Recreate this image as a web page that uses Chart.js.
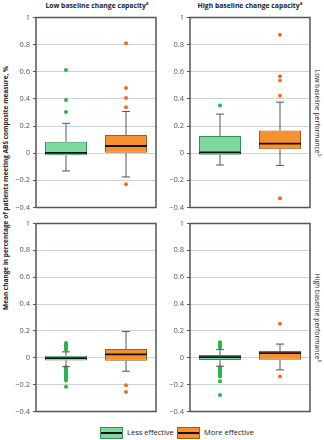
<!DOCTYPE html>
<html>
<head>
<meta charset="utf-8">
<script src="https://cdn.jsdelivr.net/npm/chart.js@4"></script>
<style>
  body { margin: 0; background: #fff; font-family: "Open Sans", "Noto Sans", sans-serif; }
  #wrap { position: relative; width: 324px; height: 440px; overflow: hidden; }
  canvas { position: absolute; }
  .t { position: absolute; color: #222; white-space: nowrap; font-size: 7.5px; }
  .b { font-weight: bold; }
  sup { font-size: 4.5px; }
  .leg { position: absolute; top: 427px; width: 21px; height: 10px; border: 1px solid; }
  .leg i { position: absolute; left: 0; right: 0; top: 4px; height: 2px; background: #111; }
</style>
</head>
<body>
<div id="wrap">
  <div class="t b" style="left:97px; top:0px; font-size:6.8px; transform:translateX(-50%);">Low baseline change capacity<sup>a</sup></div>
  <div class="t b" style="left:250px; top:0px; font-size:6.8px; transform:translateX(-50%);">High baseline change capacity<sup>a</sup></div>
  <div class="t b" style="left:5px; top:188px; font-size:6.5px; transform:translate(-50%,-50%) rotate(-90deg);">Mean change in percentage of patients meeting ABS composite measure, %</div>
  <div class="t" style="left:318px; top:113px; font-size:6.8px; transform:translate(-50%,-50%) rotate(90deg);">Low baseline performance<sup>b</sup></div>
  <div class="t" style="left:318px; top:318px; font-size:6.8px; transform:translate(-50%,-50%) rotate(90deg);">High baseline performance<sup>b</sup></div>

  <canvas id="c1" width="162" height="205" style="left:0; top:10px;"></canvas>
  <canvas id="c2" width="162" height="205" style="left:162px; top:10px;"></canvas>
  <canvas id="c3" width="162" height="203" style="left:0; top:216px;"></canvas>
  <canvas id="c4" width="162" height="203" style="left:162px; top:216px;"></canvas>

  <div class="leg" style="left:100px; background:#7dd9a0; border-color:#3e8a5a;"><i></i></div>
  <div class="t" style="left:127px; top:427px;">Less effective</div>
  <div class="leg" style="left:177px; background:#f7902f; border-color:#a45a1c;"><i></i></div>
  <div class="t" style="left:204px; top:427px;">More effective</div>
</div>
<script>
var categories = ['Less effective', 'More effective'];
var fills = ['#7dd9a0', '#f7902f'];
var borders = ['#3e8a5a', '#a45a1c'];
var dots = ['#2bb34b', '#f46f1b'];
var yTicks = [1, 0.8, 0.6, 0.4, 0.2, 0, -0.2, -0.4];

// low change capacity, low performance
var a_q1 = [-0.015, 0.0];
var a_median = [0.002, 0.053];
var a_q3 = [0.084, 0.134];
var a_whiskerLow = [-0.131, -0.175];
var a_whiskerHigh = [0.22, 0.307];
var a_outLess = [0.613, 0.393, 0.303];
var a_outMore = [0.81, 0.48, 0.407, 0.339, -0.228];

// high change capacity, low performance
var b_q1 = [-0.012, 0.029];
var b_median = [0.006, 0.07];
var b_q3 = [0.126, 0.167];
var b_whiskerLow = [-0.087, -0.09];
var b_whiskerHigh = [0.288, 0.376];
var b_outLess = [0.351];
var b_outMore = [0.873, 0.567, 0.535, 0.424, -0.332];

// low change capacity, high performance
var c_q1 = [-0.02, -0.022];
var c_median = [-0.002, 0.025];
var c_q3 = [0.015, 0.066];
var c_whiskerLow = [-0.066, -0.1];
var c_whiskerHigh = [0.044, 0.195];
var c_outLess = [0.11, 0.1, 0.09, 0.08, 0.07, 0.06, -0.07, -0.08, -0.09, -0.1, -0.11, -0.12, -0.13, -0.14, -0.15, -0.16, -0.17, -0.215];
var c_outMore = [-0.204, -0.255];

// high change capacity, high performance
var d_q1 = [-0.017, -0.015];
var d_median = [0.005, 0.034];
var d_q3 = [0.02, 0.051];
var d_whiskerLow = [-0.063, -0.09];
var d_whiskerHigh = [0.061, 0.102];
var d_outLess = [0.115, 0.1, 0.085, 0.075, -0.07, -0.08, -0.09, -0.1, -0.11, -0.12, -0.13, -0.14, -0.175, -0.277];
var d_outMore = [0.253, -0.139];

function fmt(v) {
  var s = String(Number(v.toFixed(1)));
  return s.replace('-', '\u2212');
}

var boxPlugin = {
  id: 'boxes',
  beforeDatasetsDraw: function(chart) {
    var a = chart.chartArea, ctx = chart.ctx;
    ctx.save();
    ctx.strokeStyle = '#555';
    ctx.lineWidth = 1.5;
    ctx.strokeRect(a.left, a.top, a.right - a.left, a.bottom - a.top);
    ctx.restore();
  },
  afterDatasetsDraw: function(chart, args, s) {
    var y = chart.scales.y, ctx = chart.ctx;
    var bars = chart.getDatasetMeta(0).data;
    ctx.save();
    bars.forEach(function(bar, i) {
      var x = bar.x, half = bar.width / 2;
      ctx.strokeStyle = '#555';
      ctx.lineWidth = 1;
      ctx.beginPath();
      ctx.moveTo(x, y.getPixelForValue(s.q3[i]));
      ctx.lineTo(x, y.getPixelForValue(s.hi[i]));
      ctx.moveTo(x - 4, y.getPixelForValue(s.hi[i]));
      ctx.lineTo(x + 4, y.getPixelForValue(s.hi[i]));
      ctx.moveTo(x, y.getPixelForValue(s.q1[i]));
      ctx.lineTo(x, y.getPixelForValue(s.lo[i]));
      ctx.moveTo(x - 4, y.getPixelForValue(s.lo[i]));
      ctx.lineTo(x + 4, y.getPixelForValue(s.lo[i]));
      ctx.stroke();
      ctx.strokeStyle = '#111';
      ctx.lineWidth = 1.8;
      ctx.beginPath();
      ctx.moveTo(x - half, y.getPixelForValue(s.med[i]));
      ctx.lineTo(x + half, y.getPixelForValue(s.med[i]));
      ctx.stroke();
    });
    ctx.restore();
  }
};

function makePanel(id, q1, med, q3, lo, hi, outLess, outMore, axisW, padR, padB) {
  return new Chart(document.getElementById(id), {
    type: 'bar',
    data: {
      labels: categories,
      datasets: [{
        data: [[q1[0], q3[0]], [q1[1], q3[1]]],
        backgroundColor: fills,
        borderColor: borders,
        borderWidth: 1,
        borderSkipped: false,
        barPercentage: 0.7,
        categoryPercentage: 1
      }, {
        type: 'line',
        showLine: false,
        data: outLess.map(function(v) { return {x: categories[0], y: v}; }),
        pointRadius: 2,
        pointBorderWidth: 0,
        pointBackgroundColor: dots[0]
      }, {
        type: 'line',
        showLine: false,
        data: outMore.map(function(v) { return {x: categories[1], y: v}; }),
        pointRadius: 2,
        pointBorderWidth: 0,
        pointBackgroundColor: dots[1]
      }]
    },
    options: {
      responsive: false,
      animation: false,
      layout: { padding: { top: 6, right: padR, bottom: padB, left: 0 } },
      plugins: {
        legend: { display: false },
        tooltip: { enabled: false },
        boxes: { q1: q1, med: med, q3: q3, lo: lo, hi: hi }
      },
      scales: {
        x: { display: false, offset: true },
        y: {
          min: -0.4, max: 1,
          afterFit: function(scale) { scale.width = axisW; },
          afterBuildTicks: function(scale) { scale.ticks = yTicks.map(function(v) { return {value: v}; }); },
          border: { display: false },
          grid: { color: '#c8d6d6', tickColor: '#555', tickLength: 3 },
          ticks: {
            padding: 3,
            color: '#555',
            font: { size: 7.5, family: '"Open Sans", "Noto Sans", sans-serif' },
            callback: function(v) { return fmt(v); }
          }
        }
      }
    },
    plugins: [boxPlugin]
  });
}

makePanel('c1', a_q1, a_median, a_q3, a_whiskerLow, a_whiskerHigh, a_outLess, a_outMore, 36, 6, 6);
makePanel('c2', b_q1, b_median, b_q3, b_whiskerLow, b_whiskerHigh, b_outLess, b_outMore, 28, 14, 6);
makePanel('c3', c_q1, c_median, c_q3, c_whiskerLow, c_whiskerHigh, c_outLess, c_outMore, 36, 6, 6);
makePanel('c4', d_q1, d_median, d_q3, d_whiskerLow, d_whiskerHigh, d_outLess, d_outMore, 28, 14, 6);
</script>
</body>
</html>
